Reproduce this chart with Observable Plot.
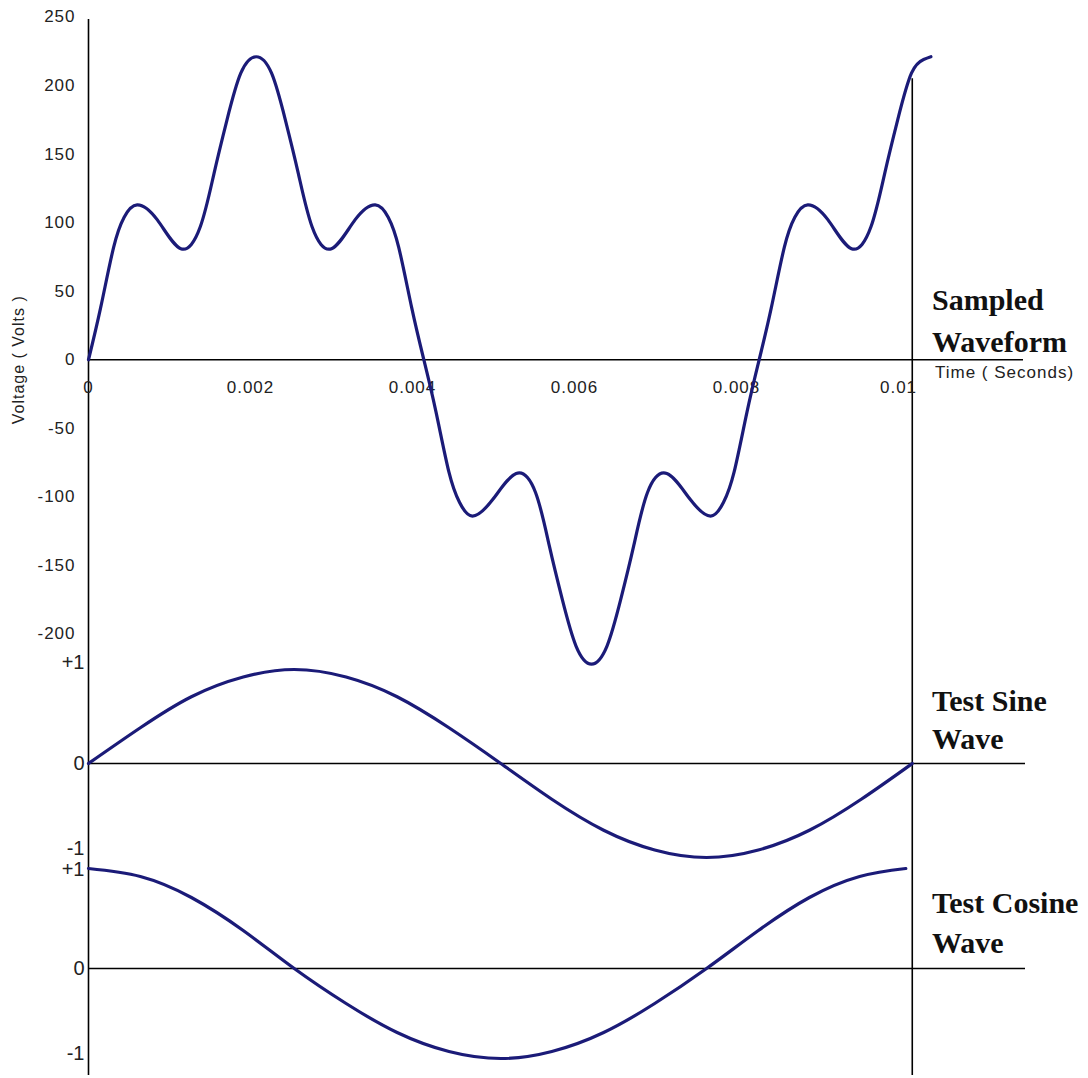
<!DOCTYPE html>
<html>
<head>
<meta charset="utf-8">
<script src="https://cdn.jsdelivr.net/npm/d3@7"></script>
<script src="https://cdn.jsdelivr.net/npm/@observablehq/plot@0.6"></script>
<style>
  html, body { margin: 0; padding: 0; background: #ffffff; }
  #wrap { position: relative; width: 1088px; height: 1078px; overflow: hidden; background: #ffffff; }
  #wrap svg { position: absolute; left: 0; top: 0; }
  .title { position: absolute; font-family: "Liberation Serif", "Times New Roman", serif; font-weight: bold;
           font-size: 30px; line-height: 30px; color: #111; white-space: nowrap; }
  .xlabel { position: absolute; font-family: "Liberation Sans", Arial, sans-serif; font-size: 17px;
            line-height: 17px; letter-spacing: 1px; color: #222; white-space: nowrap; }
</style>
</head>
<body>
<div id="wrap"></div>
<script>
// ---------- data ----------
// Sampled waveform (time in seconds, voltage in volts)
const waveTime = [0, 0.00015, 0.00031, 0.00044, 0.0006, 0.00085, 0.00114, 0.00138, 0.00155, 0.00171, 0.00188, 0.00207,
  0.00226, 0.00243, 0.00259, 0.00276, 0.003, 0.00329, 0.00354, 0.0037, 0.00383, 0.00399, 0.00414,
  0.00429, 0.00445, 0.00458, 0.00474, 0.00499, 0.00528, 0.00552, 0.00569, 0.00585, 0.00602, 0.00621,
  0.0064, 0.00657, 0.00673, 0.0069, 0.00714, 0.00743, 0.00768, 0.00784, 0.00797, 0.00813, 0.00828,
  0.00843, 0.00859, 0.00872, 0.00888, 0.00913, 0.00942, 0.00966, 0.00983, 0.00999, 0.01016, 0.01031, 0.0104];
const waveVolts = [0, 38, 82, 104, 113, 102, 81, 97, 136, 175, 209, 221,
  209, 175, 136, 97, 81, 102, 113, 104, 82, 38, 0,
  -38, -82, -104, -114, -102, -83, -97, -136, -175, -209, -222,
  -209, -175, -136, -97, -83, -102, -114, -104, -82, -38, 0,
  38, 82, 104, 113, 102, 81, 97, 136, 175, 209, 219, 221];

// Test sine wave (one period over the window)
const sineTime = [0, 0.00064, 0.00127, 0.00191, 0.00254, 0.00318, 0.00381, 0.00445, 0.00509,
  0.00572, 0.00636, 0.00699, 0.00763, 0.00827, 0.0089, 0.00954, 0.01017];
const sineValue = [0, 0.38, 0.71, 0.92, 1, 0.92, 0.71, 0.38, 0, -0.38, -0.71, -0.92, -1, -0.92, -0.71, -0.38, 0];

// Test cosine wave
const cosTime = [0, 0.00064, 0.00127, 0.00191, 0.00254, 0.00318, 0.00381, 0.00445, 0.00509,
  0.00572, 0.00636, 0.00699, 0.00763, 0.00827, 0.0089, 0.00952, 0.01009];
const cosValue = [1, 0.92, 0.71, 0.38, 0, -0.35, -0.64, -0.83, -0.9, -0.83, -0.64, -0.35, 0, 0.38, 0.71, 0.92, 1];

// Ticks
const timeTicks = [0, 0.002, 0.004, 0.006, 0.008, 0.01];
const voltTicks = [250, 200, 150, 100, 50, 0, -50, -100, -150, -200];
const unitTickLabels = ["+1", "0", "-1"];
const unitTickValues = [1, 0, -1];

// Window end (right-hand vertical rule) and where it meets the waveform
const windowEnd = 0.01017;
const windowRuleTop = 205;

// ---------- drawing ----------
const navy = "#1b1b78";
const W = 1088, H = 1078;
const xOpts = {domain: [0, 0.01], axis: null};
const common = {width: W, height: H, marginLeft: 88, marginRight: 190};
const svgStyle = (fs) => ({background: "transparent", overflow: "visible", fontFamily: "Liberation Sans, Arial, sans-serif",
  fontSize: fs + "px", color: "#222", maxWidth: "none"});

const wave = waveTime.map((t, i) => ({t, v: waveVolts[i]}));
const sine = sineTime.map((t, i) => ({t, v: sineValue[i]}));
const cosw = cosTime.map((t, i) => ({t, v: cosValue[i]}));
const fmtV = d => d < 0 ? "-" + Math.abs(d) : String(d);
const fmtT = d => String(d);

const topPlot = Plot.plot({
  ...common, marginTop: 16.5, marginBottom: H - 702,
  x: xOpts, y: {domain: [-250, 250], label: null},
  style: {...svgStyle(17), letterSpacing: "1px"},
  marks: [
    Plot.ruleX([0], {stroke: "#000", strokeWidth: 1.6, insetTop: 2.5, insetBottom: -373}),
    Plot.ruleX([windowEnd], {y1: windowRuleTop, y2: -250, stroke: "#000", strokeWidth: 1.6, insetBottom: -373}),
    Plot.ruleY([0], {stroke: "#000", strokeWidth: 1.6, insetRight: -125}),
    Plot.axisY(voltTicks, {tickSize: 0, tickPadding: 13, tickFormat: fmtV, label: null, fill: "#222"}),
    Plot.text(timeTicks, {x: d => d, y: 0, dy: 28, text: fmtT, fill: "#222"}),
    Plot.text(["Voltage ( Volts )"], {text: d => d, frameAnchor: "left", textAnchor: "middle", dx: -70, rotate: -90,
      fill: "#222", fontSize: 16}),
    Plot.line(wave, {x: "t", y: "v", curve: "natural", stroke: navy, strokeWidth: 3.2})
  ]
});

function unitPanel(data, mTop, mBottom, offsets) {
  const labels = unitTickValues.map((v, i) => Plot.text([v], {
    x: 0, y: d => d, text: () => unitTickLabels[i], textAnchor: "end", dx: -4, dy: offsets[i], fill: "#222"
  }));
  return Plot.plot({
    ...common, marginTop: mTop, marginBottom: H - mBottom,
    x: xOpts, y: {domain: [-1, 1], axis: null, label: null},
    style: svgStyle(20),
    marks: [
      Plot.ruleY([0], {stroke: "#000", strokeWidth: 1.6, insetRight: -127}),
      ...labels,
      Plot.line(data, {x: "t", y: "v", curve: "natural", stroke: navy, strokeWidth: 3.2})
    ]
  });
}

const sinePlot = unitPanel(sine, 669, 857, [-7, 0, -9]);
const cosPlot = unitPanel(cosw, 868, 1068, [1, 0, -15]);

const wrap = document.getElementById("wrap");
wrap.append(topPlot, sinePlot, cosPlot);

function addDiv(cls, text, left, topPx) {
  const d = document.createElement("div");
  d.className = cls;
  d.textContent = text;
  d.style.left = left + "px";
  d.style.top = topPx + "px";
  wrap.appendChild(d);
}
addDiv("title", "Sampled", 932, 285);
addDiv("title", "Waveform", 932, 327);
addDiv("title", "Test Sine", 932, 686);
addDiv("title", "Wave", 932, 724);
addDiv("title", "Test Cosine", 932, 888);
addDiv("title", "Wave", 932, 928);
addDiv("xlabel", "Time ( Seconds)", 935, 364);
</script>
</body>
</html>
